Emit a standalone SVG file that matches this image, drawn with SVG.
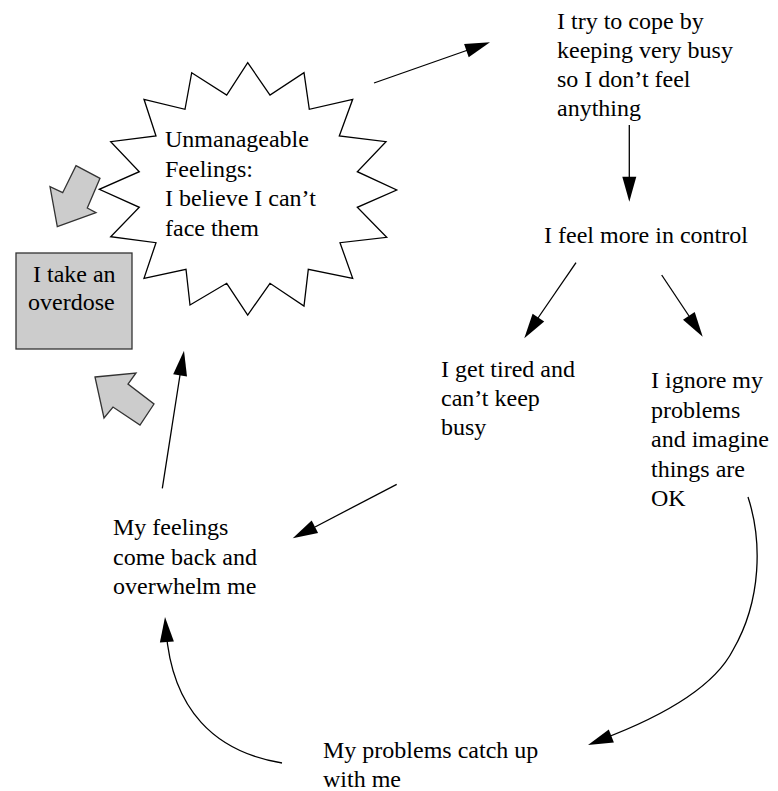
<svg xmlns="http://www.w3.org/2000/svg" width="778" height="791" viewBox="0 0 778 791">
<rect width="778" height="791" fill="#fff"/>
<g id="star">
<polygon points="247.7,62.7 270,95 304,72.7 309.3,109.3 352.7,99.3 339.3,136 386,141.7 357.3,171.7 396.7,190 357.3,207.3 386.7,237.3 340,242.7 352.7,278.3 308.3,269.3 304,306 270,283.3 247.7,315 226.7,283.3 190,305 186,269.3 144,278.3 156,242.7 110.7,236.7 139.3,207.3 99.3,189.3 139.3,171.7 110.7,141.7 156,136 144,99.3 185,109.3 191.7,72.7 226.7,95" fill="#fff" stroke="#000" stroke-width="1.3"/>
<text x="165" y="147" font-family="Liberation Serif" font-size="24">Unmanageable</text>
<text x="165" y="176.5" font-family="Liberation Serif" font-size="24">Feelings:</text>
<text x="165" y="206" font-family="Liberation Serif" font-size="24">I believe I can&#8217;t</text>
<text x="165" y="235.5" font-family="Liberation Serif" font-size="24">face them</text>
</g>
<g id="overdose">
<rect x="16" y="253" width="116" height="96" fill="#cccccc" stroke="#333" stroke-width="1.3"/>
<text x="33" y="281.5" font-family="Liberation Serif" font-size="24">I take an</text>
<text x="28" y="310" font-family="Liberation Serif" font-size="24">overdose</text>
</g>
<g id="grayarrow1">
<polygon points="76,165.7 100,178.3 87.3,208 96,212.7 57.3,226.7 50,186.7 62.7,192.7" fill="#cccccc" stroke="#333" stroke-width="1.3"/>
</g>
<g id="grayarrow2">
<polygon points="95,377 136,373 128,384 154,404 140,425 113,407 104,418" fill="#cccccc" stroke="#333" stroke-width="1.3"/>
</g>
<g id="cope">
<text x="557" y="28.5" font-family="Liberation Serif" font-size="24">I try to cope by</text>
<text x="557" y="57.5" font-family="Liberation Serif" font-size="24">keeping very busy</text>
<text x="557" y="86.5" font-family="Liberation Serif" font-size="24">so I don&#8217;t feel</text>
<text x="557" y="115.5" font-family="Liberation Serif" font-size="24">anything</text>
</g>
<g id="control">
<text x="544" y="242.5" font-family="Liberation Serif" font-size="24">I feel more in control</text>
</g>
<g id="tired">
<text x="441" y="376.5" font-family="Liberation Serif" font-size="24">I get tired and</text>
<text x="441" y="406" font-family="Liberation Serif" font-size="24">can&#8217;t keep</text>
<text x="441" y="435" font-family="Liberation Serif" font-size="24">busy</text>
</g>
<g id="ignore">
<text x="651" y="388" font-family="Liberation Serif" font-size="24">I ignore my</text>
<text x="651" y="417.5" font-family="Liberation Serif" font-size="24">problems</text>
<text x="651" y="447" font-family="Liberation Serif" font-size="24">and imagine</text>
<text x="651" y="476.5" font-family="Liberation Serif" font-size="24">things are</text>
<text x="651" y="506" font-family="Liberation Serif" font-size="24">OK</text>
</g>
<g id="feelings">
<text x="113" y="535" font-family="Liberation Serif" font-size="24">My feelings</text>
<text x="113" y="564.5" font-family="Liberation Serif" font-size="24">come back and</text>
<text x="113" y="594" font-family="Liberation Serif" font-size="24">overwhelm me</text>
</g>
<g id="catchup">
<text x="323" y="758" font-family="Liberation Serif" font-size="24">My problems catch up</text>
<text x="323" y="787" font-family="Liberation Serif" font-size="24">with me</text>
</g>
<g id="connectors" stroke="#000" stroke-width="1.3">
<line x1="374" y1="83" x2="468" y2="50" fill="none"/>
<polygon points="490,42.3 468.7,57.2 464.1,44.0" fill="#000" stroke="none"/>
<line x1="629.3" y1="125" x2="629.3" y2="178" fill="none"/>
<polygon points="629.3,201.7 622.3,176.7 636.3,176.7" fill="#000" stroke="none"/>
<line x1="576" y1="262.7" x2="538" y2="318" fill="none"/>
<polygon points="524.3,338.3 544.2,321.6 532.6,313.7" fill="#000" stroke="none"/>
<line x1="661.7" y1="275" x2="689" y2="316" fill="none"/>
<polygon points="702.7,336.7 683.0,319.8 694.7,312.0" fill="#000" stroke="none"/>
<line x1="396.7" y1="484.3" x2="315" y2="527" fill="none"/>
<polygon points="292.7,538.3 311.7,520.6 318.1,533.0" fill="#000" stroke="none"/>
<line x1="162.3" y1="488.3" x2="180" y2="375" fill="none"/>
<polygon points="184,350.7 187.0,376.5 173.2,374.3" fill="#000" stroke="none"/>
<path d="M748,497 C762,540 762,600 733,650 C710,695 640,725 600,740" fill="none"/>
<polygon points="588,745 608.8,729.5 613.9,742.6" fill="#000" stroke="none"/>
<path d="M282,763 C215,752 172,710 166,630" fill="none"/>
<polygon points="165,617 173.9,641.4 159.9,642.5" fill="#000" stroke="none"/>
</g>
</svg>
